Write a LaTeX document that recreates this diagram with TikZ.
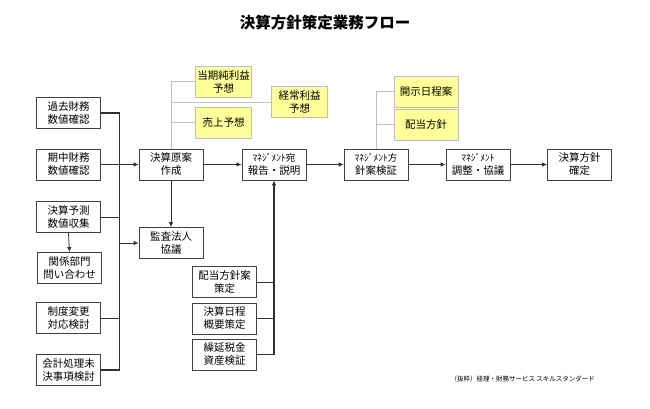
\documentclass[tikz,border=0pt]{standalone}
\usepackage{fontspec}
\setmainfont{Noto Sans CJK JP}
\usetikzlibrary{arrows.meta}
\definecolor{boxline}{HTML}{404040}
\definecolor{conn}{HTML}{303030}
\definecolor{yfill}{HTML}{FFFF99}
\definecolor{yline}{HTML}{BFBFBF}
\begin{document}
\begin{tikzpicture}[x=1pt,y=-1pt,
  box/.style={draw=boxline,line width=0.8pt,fill=white,minimum width=64pt,minimum height=31pt,inner sep=1pt,align=center,font=\fontsize{10.5}{13}\selectfont},
  ybox/.style={draw=yline,line width=0.7pt,fill=yfill,minimum width=56pt,minimum height=31pt,inner sep=1pt,align=center,font=\fontsize{10.5}{13}\selectfont},
  line/.style={draw=conn,line width=0.8pt},
  bus/.style={draw=conn,line width=1.1pt},
  arr/.style={draw=conn,line width=0.8pt,-{Latex[length=5pt,width=4.5pt]}},
  gline/.style={draw=yline,line width=0.8pt}]
\useasboundingbox (0,0) rectangle (650,409);
\node[font=\fontsize{15.5}{17}\selectfont\bfseries] (title) at (325,22.5) {決算方針策定業務フロー};
% left column
\node[box] (p1) at (68.5,113) {過去財務\\数値確認};
\node[box] (p2) at (68.5,164.5) {期中財務\\数値確認};
\node[box] (p3) at (68.5,217) {決算予測\\数値収集};
\node[box] (p4) at (69.5,268) {関係部門\\問い合わせ};
\node[box] (p5) at (68.5,318) {制度変更\\対応検討};
\node[box] (p6) at (68.5,370) {会計処理未\\決事項検討};
\coordinate (bus1) at (119.5,0);
% main flow
\node[box] (a) at (171,164.5) {決算原案\\作成};
\node[box] (b) at (171,243) {監査法人\\協議};
\node[box] (m1) at (274,164.5) {{\fontsize{9.5}{11}\selectfont ﾏﾈｼﾞﾒﾝﾄ宛}\\報告・説明};
\node[box] (m2) at (376,164.5) {{\fontsize{9.5}{11}\selectfont ﾏﾈｼﾞﾒﾝﾄ方}\\針案検証};
\node[box] (m3) at (478,164.5) {{\fontsize{9.5}{11}\selectfont ﾏﾈｼﾞﾒﾝﾄ}\\調整・協議};
\node[box] (m4) at (579.5,164.5) {決算方針\\確定};
% yellow
\node[ybox] (y1) at (223.5,81.5) {当期純利益\\予想};
\node[ybox] (y2) at (299.5,102) {経常利益\\予想};
\node[ybox] (y3) at (223.5,122.5) {売上予想};
\node[ybox,minimum width=64pt] (y4) at (426,91.5) {開示日程案};
\node[ybox,minimum width=64pt] (y5) at (426,124.5) {配当方針};
% lower middle
\node[box] (d1) at (224.5,282) {配当方針案\\策定};
\node[box] (d2) at (224.5,318.5) {決算日程\\概要策定};
\node[box] (d3) at (224.5,354.5) {繰延税金\\資産検証};
% footer
\node[font=\fontsize{6.5}{8}\selectfont,anchor=west] (foot) at (447,379) {（抜粋）経理・財務サービス スキルスタンダード};
% connectors left
\draw[bus] (p1.east) -- (p1.east -| bus1) -- (p6.east -| bus1) -- (p6.east);
\draw[line] (p3.east) -- (p3.east -| bus1);
\draw[line] (p5.east) -- (p5.east -| bus1);
\draw[arr] (p2.east) -- (a.west);
\draw[arr] (bus1 |- b.west) -- (b.west);
\draw[arr] (p3.south) -- (p4.north);
\draw[arr] (a.south) -- (b.north);
% main arrows
\draw[arr] (a.east) -- (m1.west);
\draw[arr] (m1.east) -- (m2.west);
\draw[arr] (m2.east) -- (m3.west);
\draw[arr] (m3.east) -- (m4.west);
% gray links
\draw[gline] (a.north) -- (a.north |- y1.west) -- (y1.west);
\draw[gline] (a.north |- y2.west) -- (y2.west);
\draw[gline] (a.north |- y3.west) -- (y3.west);
\draw[gline] (m2.north) -- (m2.north |- y4.west) -- (y4.west);
\draw[gline] (m2.north |- y5.west) -- (y5.west);
% lower middle bus
\draw[bus] (d3.east) -- (d3.east -| m1.south);
\draw[line] (d1.east) -- (d1.east -| m1.south);
\draw[line] (d2.east) -- (d2.east -| m1.south);
\draw[bus,-{Latex[length=5pt,width=4.5pt]}] (d3.east -| m1.south) -- (m1.south);
\end{tikzpicture}
\end{document}
